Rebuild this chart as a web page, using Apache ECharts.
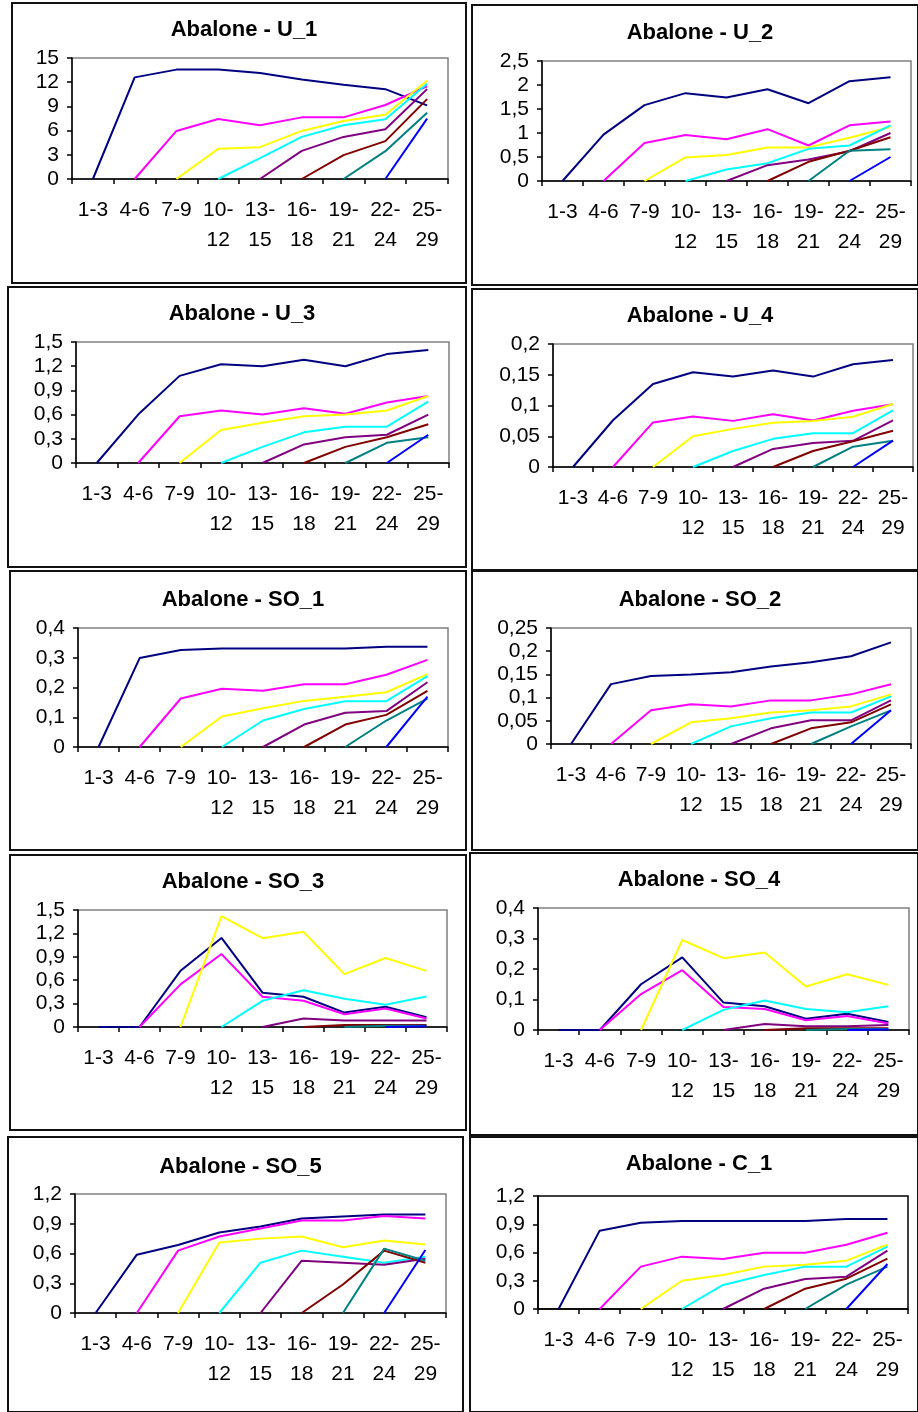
<!DOCTYPE html>
<html><head><meta charset="utf-8">
<script src="https://cdn.jsdelivr.net/npm/echarts@6/dist/echarts.min.js"></script>
<style>html,body{margin:0;padding:0;background:#fff}#c{width:918px;height:1412px}</style>
</head><body><div id="c"></div>
<script>
const categories = ['1-3','4-6','7-9','10-12','13-15','16-18','19-21','22-24','25-29'];
const seriesColors = ['#000080','#FF00FF','#FFFF00','#00FFFF','#800080','#800000','#008080','#0000FF'];
const n = null;

const U_1 = [
  [0,12.6,13.56,13.56,13.15,12.33,11.67,11.14,9.12],
  [n,0,5.96,7.44,6.66,7.64,7.64,9.17,11.5],
  [n,n,0,3.74,3.95,5.96,7.19,7.97,12.17],
  [n,n,n,0,2.6,5.22,6.66,7.4,11.8],
  [n,n,n,n,0,3.49,5.22,6.17,11.14],
  [n,n,n,n,n,0,2.96,4.69,9.9],
  [n,n,n,n,n,n,0,3.45,8.22],
  [n,n,n,n,n,n,n,0,7.48]
];
const U_2 = [
  [0,0.965,1.58,1.83,1.74,1.91,1.62,2.08,2.16],
  [n,0,0.79,0.96,0.87,1.08,0.74,1.16,1.24],
  [n,n,0,0.49,0.54,0.70,0.70,0.90,1.125],
  [n,n,n,0,0.24,0.37,0.67,0.74,1.16],
  [n,n,n,n,0,0.33,0.45,0.62,1.0],
  [n,n,n,n,n,0,0.40,0.63,0.91],
  [n,n,n,n,n,n,0,0.63,0.66],
  [n,n,n,n,n,n,n,0,0.5]
];
const U_3 = [
  [0,0.60,1.08,1.225,1.20,1.28,1.20,1.35,1.40],
  [n,0,0.58,0.65,0.60,0.68,0.61,0.75,0.83],
  [n,n,0,0.41,0.50,0.58,0.60,0.65,0.83],
  [n,n,n,0,0.20,0.38,0.45,0.45,0.76],
  [n,n,n,n,0,0.23,0.32,0.35,0.60],
  [n,n,n,n,n,0,0.20,0.32,0.48],
  [n,n,n,n,n,n,0,0.25,0.32],
  [n,n,n,n,n,n,n,0,0.35]
];
const U_4 = [
  [0,0.076,0.135,0.154,0.147,0.157,0.147,0.167,0.174],
  [n,0,0.0725,0.082,0.075,0.0856,0.0757,0.0916,0.102],
  [n,n,0,0.050,0.062,0.072,0.0747,0.0817,0.1025],
  [n,n,n,0,0.026,0.0458,0.055,0.055,0.092],
  [n,n,n,n,0,0.0294,0.039,0.0425,0.0757],
  [n,n,n,n,n,0,0.026,0.042,0.059],
  [n,n,n,n,n,n,0,0.033,0.0425],
  [n,n,n,n,n,n,n,0,0.043]
];
const SO_1 = [
  [0,0.299,0.326,0.331,0.331,0.331,0.331,0.337,0.337],
  [n,0,0.163,0.196,0.189,0.211,0.211,0.243,0.293],
  [n,n,0,0.1025,0.13,0.155,0.169,0.184,0.245],
  [n,n,n,0,0.089,0.128,0.154,0.154,0.238],
  [n,n,n,n,0,0.0755,0.115,0.1206,0.2175],
  [n,n,n,n,n,0,0.0755,0.108,0.189],
  [n,n,n,n,n,n,0,0.089,0.163],
  [n,n,n,n,n,n,n,0,0.169]
];
const SO_2 = [
  [0,0.129,0.1466,0.150,0.1545,0.167,0.176,0.189,0.219],
  [n,0,0.0726,0.0855,0.081,0.094,0.094,0.107,0.1286],
  [n,n,0,0.0467,0.0553,0.068,0.0726,0.081,0.107],
  [n,n,n,0,0.038,0.0553,0.068,0.068,0.1027],
  [n,n,n,n,0,0.0338,0.051,0.051,0.094],
  [n,n,n,n,n,0,0.0338,0.0467,0.0855],
  [n,n,n,n,n,n,0,0.038,0.0726],
  [n,n,n,n,n,n,n,0,0.0726]
];
const SO_3 = [
  [0,0,0.72,1.142,0.44,0.388,0.185,0.259,0.125],
  [n,0,0.547,0.935,0.388,0.336,0.164,0.237,0.108],
  [n,n,0,1.422,1.138,1.22,0.677,0.884,0.72],
  [n,n,n,0,0.336,0.47,0.362,0.284,0.392],
  [n,n,n,n,0,0.108,0.082,0.082,0.082],
  [n,n,n,n,n,0,0.026,0.026,0.026],
  [n,n,n,n,n,n,0,0.017,0.015],
  [n,n,n,n,n,n,n,0,0.01]
];
const SO_4 = [
  [0,0,0.150,0.238,0.090,0.078,0.037,0.053,0.026],
  [n,0,0.118,0.196,0.0756,0.069,0.032,0.046,0.021],
  [n,n,0,0.295,0.2356,0.254,0.1425,0.183,0.148],
  [n,n,n,0,0.066,0.0964,0.069,0.058,0.078],
  [n,n,n,n,0,0.0197,0.012,0.012,0.0164],
  [n,n,n,n,n,0,0.006,0.006,0.006],
  [n,n,n,n,n,n,0,0.003,0.003],
  [n,n,n,n,n,n,n,0,0.002]
];
const SO_5 = [
  [0,0.588,0.686,0.811,0.872,0.953,0.974,0.994,0.994],
  [n,0,0.629,0.771,0.852,0.933,0.933,0.977,0.953],
  [n,n,0,0.71,0.75,0.771,0.663,0.73,0.69],
  [n,n,n,0,0.507,0.629,0.568,0.507,0.568],
  [n,n,n,n,0,0.527,0.507,0.487,0.548],
  [n,n,n,n,n,0,0.287,0.629,0.507],
  [n,n,n,n,n,n,0,0.649,0.527],
  [n,n,n,n,n,n,n,0,0.635]
];
const C_1 = [
  [0,0.832,0.917,0.934,0.934,0.934,0.934,0.956,0.956],
  [n,0,0.45,0.556,0.531,0.598,0.598,0.683,0.81],
  [n,n,0,0.30,0.361,0.45,0.471,0.513,0.683],
  [n,n,n,0,0.255,0.361,0.45,0.45,0.662],
  [n,n,n,n,0,0.216,0.319,0.343,0.62],
  [n,n,n,n,n,0,0.216,0.322,0.535],
  [n,n,n,n,n,n,0,0.258,0.45],
  [n,n,n,n,n,n,n,0,0.478]
];

const panels = [
  {title:'Abalone - U_1', data:U_1, max:15, interval:3, frame:[12,3,466,283], grid:[72,58,376,121], ty:14},
  {title:'Abalone - U_2', data:U_2, max:2.5, interval:0.5, frame:[472,5,918,285], grid:[542,61,369,120], ty:17},
  {title:'Abalone - U_3', data:U_3, max:1.5, interval:0.3, frame:[8,287,466,567], grid:[76,342,373,121], ty:298},
  {title:'Abalone - U_4', data:U_4, max:0.2, interval:0.05, frame:[472,289,918,570], grid:[553,344,360,123], ty:300},
  {title:'Abalone - SO_1', data:SO_1, max:0.4, interval:0.1, frame:[10,571,466,850], grid:[78,628,370,119], ty:584},
  {title:'Abalone - SO_2', data:SO_2, max:0.25, interval:0.05, frame:[472,571,918,850], grid:[551,628,360,116], ty:584},
  {title:'Abalone - SO_3', data:SO_3, max:1.5, interval:0.3, frame:[10,855,466,1130], grid:[78,910,369,117], ty:866},
  {title:'Abalone - SO_4', data:SO_4, max:0.4, interval:0.1, frame:[470,853,918,1135], grid:[538,908,371,122], ty:864},
  {title:'Abalone - SO_5', data:SO_5, max:1.2, interval:0.3, frame:[8,1137,463,1412], grid:[75,1194,371,119], ty:1151},
  {title:'Abalone - C_1', data:C_1, max:1.2, interval:0.3, frame:[470,1137,918,1412], grid:[538,1196,370,113], ty:1148, border:'#000'}
];

const FONT = 'Liberation Sans';
const option = {
  backgroundColor:'#fff', animation:false,
  title:[], grid:[], xAxis:[], yAxis:[], series:[], graphic:[]
};
panels.forEach((p,i)=>{
  const [fl,ft,fr,fb] = p.frame;
  option.graphic.push({type:'rect', silent:true, z:-1,
    shape:{x:fl,y:ft,width:fr-fl,height:fb-ft},
    style:{fill:'none', stroke:'#111', lineWidth:2}});
  option.title.push({text:p.title, left:(fl+fr)/2, top:p.ty, textAlign:'center',
    textStyle:{fontFamily:FONT, fontWeight:'bold', fontSize:22, color:'#000'}});
  option.grid.push({left:p.grid[0], top:p.grid[1], width:p.grid[2], height:p.grid[3],
    show:true, borderColor:p.border||'#808080', borderWidth:1.5, backgroundColor:'transparent'});
  option.xAxis.push({type:'category', gridIndex:i, data:categories, boundaryGap:true,
    axisLine:{show:true, lineStyle:{color:'#000', width:1.5}},
    axisTick:{show:true, inside:false, length:5, interval:0, lineStyle:{color:'#000', width:1.5}},
    axisLabel:{interval:0, margin:16, fontFamily:FONT, fontSize:21, color:'#000', lineHeight:30,
      formatter:v=> v.length>3 ? v.replace('-', '-\n') : v},
    splitLine:{show:false}});
  option.yAxis.push({type:'value', gridIndex:i, min:0, max:p.max, interval:p.interval,
    axisLine:{show:true, lineStyle:{color:'#000', width:1.5}},
    axisTick:{show:true, length:5, lineStyle:{color:'#000', width:1.5}},
    axisLabel:{margin:13, fontFamily:FONT, fontSize:21, color:'#000',
      formatter:v=> String(Math.round(v*1000)/1000).replace('.', ',')},
    splitLine:{show:false}});
  p.data.forEach((row,k)=>{
    option.series.push({type:'line', xAxisIndex:i, yAxisIndex:i, data:row,
      symbol:'none', showSymbol:false, connectNulls:false,
      lineStyle:{color:seriesColors[k], width:2}, itemStyle:{color:seriesColors[k]}, z:2+k});
  });
});
const chart = echarts.init(document.getElementById('c'), null, {renderer:'canvas'});
chart.setOption(option);
</script></body></html>
